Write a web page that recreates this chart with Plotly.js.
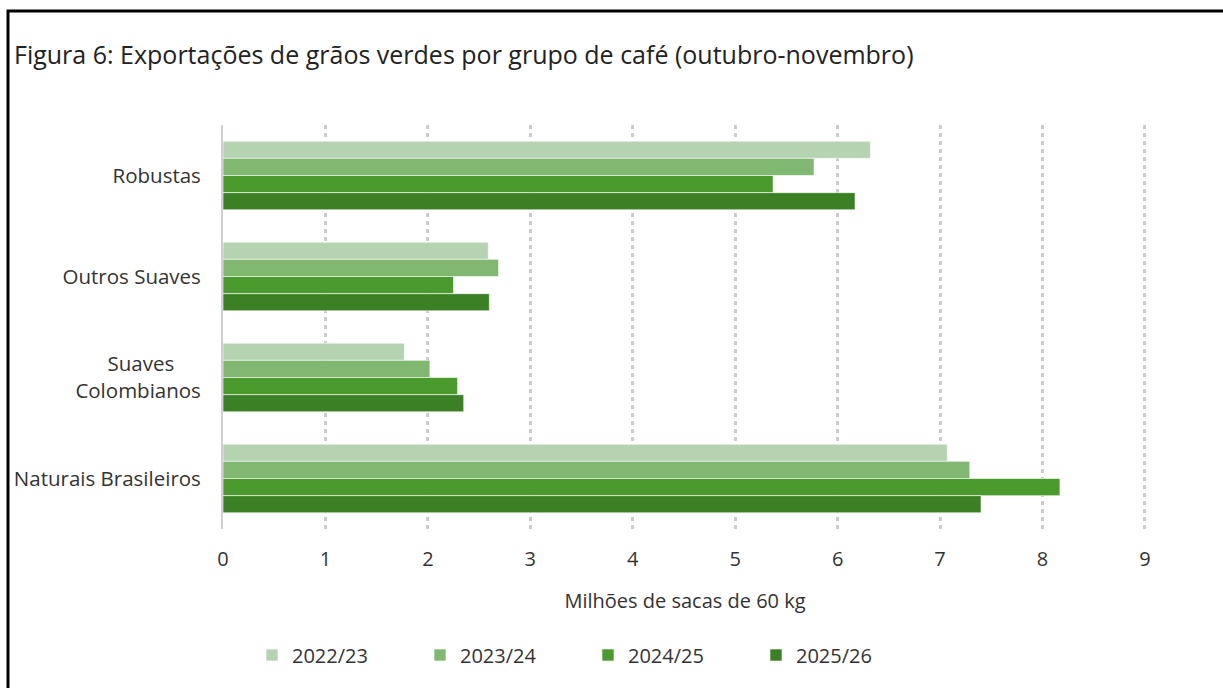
<!DOCTYPE html>
<html>
<head>
<meta charset="utf-8">
<script src="https://cdn.plot.ly/plotly-3.0.1.min.js"></script>
<style>
html,body{margin:0;padding:0;background:#fff;}
#chart{width:1223px;height:688px;}
</style>
</head>
<body>
<div id="chart"></div>
<script>
const categories = ["Robustas", "Outros Suaves", "Suaves Colombianos", "Naturais Brasileiros"];
const categoryLabels = ["Robustas", "Outros Suaves", "Suaves\u00a0\u00a0\u00a0\u00a0\u00a0<br>Colombianos", "Naturais Brasileiros"];
const seriesNames = ["2022/23", "2023/24", "2024/25", "2025/26"];
const v2022 = [6.32, 2.59, 1.77, 7.07];
const v2023 = [5.77, 2.69, 2.02, 7.29];
const v2024 = [5.37, 2.25, 2.29, 8.17];
const v2025 = [6.17, 2.60, 2.35, 7.40];
const xTicks = [0, 1, 2, 3, 4, 5, 6, 7, 8, 9];
const colors = ["#b5d3b0", "#80b872", "#4a9a2e", "#3b8024"];

const values = [v2022, v2023, v2024, v2025];
const traces = values.map((v, i) => ({
  type: "bar",
  orientation: "h",
  name: seriesNames[i],
  y: categories,
  x: v,
  marker: {color: colors[i], line: {color: "rgba(255,255,255,0.6)", width: 1}},
  hoverinfo: "x+name"
}));

const font = "Open Sans, Noto Sans, sans-serif";
const plotW = 924;
const layout = {
  width: 1223,
  height: 688,
  paper_bgcolor: "#fff",
  plot_bgcolor: "#fff",
  margin: {l: 223, r: 76, t: 125, b: 159},
  font: {family: font, size: 20, color: "#333"},
  title: {
    text: "Figura 6: Exportações de grãos verdes por grupo de café (outubro-novembro)",
    x: 14 / 1223, xanchor: "left", xref: "container",
    y: 1 - 55 / 688, yanchor: "middle", yref: "container",
    font: {family: font, size: 25, color: "#222"}
  },
  barmode: "group",
  bargap: 0.32,
  bargroupgap: 0,
  xaxis: {
    range: [0, 9.02],
    tickvals: xTicks,
    ticktext: xTicks.map(String),
    showgrid: true,
    gridcolor: "#cccccc",
    gridwidth: 3,
    griddash: "4px,4px",
    zeroline: false,
    showline: false,
    ticks: "",
    ticklabelstandoff: 16,
    tickfont: {size: 20, color: "#333"},
    title: {text: "Milhões de sacas de 60 kg", font: {size: 20, color: "#333"}, standoff: 22}
  },
  yaxis: {
    autorange: "reversed",
    type: "category",
    tickvals: categories,
    ticktext: categoryLabels,
    showgrid: false,
    zeroline: false,
    showline: true,
    linecolor: "#d0d0d0",
    linewidth: 2,
    ticks: "",
    ticklabelstandoff: 16,
    tickfont: {size: 20.5, color: "#333"}
  },
  showlegend: true,
  legend: {
    orientation: "h",
    x: (252 - 223) / plotW, xanchor: "left",
    y: (529 - 655) / 404, yanchor: "middle",
    entrywidth: 123, entrywidthmode: "pixels",
    font: {size: 20, color: "#333"},
    traceorder: "normal",
    itemclick: false
  },
  shapes: [{
    type: "rect", xref: "paper", yref: "paper",
    x0: (8 - 223) / plotW, x1: (1240 - 223) / plotW,
    y0: (529 - 720) / 404, y1: (529 - 11) / 404,
    line: {color: "#000", width: 3},
    fillcolor: "rgba(0,0,0,0)",
    layer: "above"
  }]
};

Plotly.newPlot("chart", traces, layout, {displayModeBar: false, staticPlot: true});
</script>
</body>
</html>
